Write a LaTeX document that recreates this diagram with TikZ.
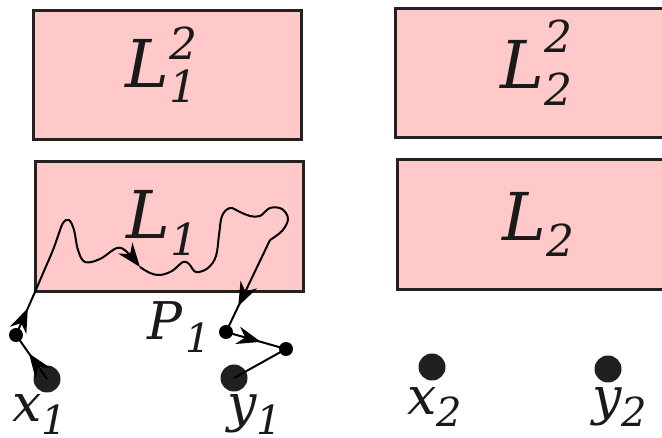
\documentclass[tikz,border=0pt]{standalone}
\usepackage{fontspec}
\setmainfont{DejaVu Serif}
\usetikzlibrary{arrows.meta,decorations.markings}
\definecolor{boxfill}{RGB}{255,201,201}
\definecolor{boxline}{RGB}{34,34,34}
\definecolor{dotcol}{RGB}{32,32,32}
\definecolor{txtcol}{RGB}{26,26,26}
\newcommand\Lf{\fontsize{66}{66}\selectfont\itshape}
\newcommand\Mf{\fontsize{52}{52}\selectfont\itshape}
\newcommand\Sf{\fontsize{44}{44}\selectfont\itshape}
\newcommand\Tf{\fontsize{40}{40}\selectfont\itshape}
\tikzset{
 box/.style={draw=boxline, line width=3pt, fill=boxfill, rectangle, inner sep=0pt},
 bigdot/.style={circle, fill=dotcol, inner sep=0pt, minimum size=27pt},
 smalldot/.style={circle, fill=black, inner sep=0pt, minimum size=14pt},
 txt/.style={anchor=base west, inner sep=0pt, text=txtcol},
 walk/.style={line width=2pt, black, line join=round},
 midarrow/.style={walk, postaction={decorate}, decoration={markings, mark=at position #1 with {\arrow{Stealth[scale=2]}}}},
 midarrow/.default=0.5,
 tip/.style={-{Stealth[scale=2]}}
}
\begin{document}
\begin{tikzpicture}[x=1pt,y=-1pt]
\clip (0,0) rectangle (662,438);
% boxes
\node[box, minimum width=267.5pt, minimum height=129.5pt] (B12) at (167.25,75.25) {};
\node[box, minimum width=268.5pt, minimum height=130pt] (B1) at (169.25,227) {};
\node[box, minimum width=295pt, minimum height=129.2pt] (B22) at (542.5,73.1) {};
\node[box, minimum width=293pt, minimum height=130pt] (B2) at (543.5,225) {};
% box labels
\node[txt] (tL12) at (125,88) {{\Lf L}\rlap{\raisebox{28pt}{\Sf 2}}\raisebox{-15pt}{\Sf 1}};
\node[txt] (tL1) at (126,239) {{\Lf L}\raisebox{-17pt}{\Sf 1}};
\node[txt] (tL22) at (500,89) {{\Lf L}\rlap{\raisebox{36pt}{\Sf 2}}\raisebox{-17pt}{\Sf 2}};
\node[txt] (tL2) at (502,241) {{\Lf L}\raisebox{-16pt}{\Sf 2}};
% point labels
\node[txt] (tP1) at (147,340) {{\Mf P}\kern3pt\raisebox{-13pt}{\Tf 1}};
\node[txt] (tx1) at (12,422) {{\Mf x}\raisebox{-13pt}{\Tf 1}};
\node[txt] (ty1) at (227,422) {{\Mf y}\raisebox{-13pt}{\Tf 1}};
\node[txt] (tx2) at (407,415) {{\Mf x}\raisebox{-12pt}{\Tf 2}};
\node[txt] (ty2) at (592,415) {{\Mf y}\raisebox{-12pt}{\Tf 2}};
% points
\node[bigdot] (x1) at (47,379) {};
\node[bigdot] (y1) at (234,378) {};
\node[bigdot] (x2) at (432,367) {};
\node[bigdot] (y2) at (608,369) {};
\node[smalldot] (a1) at (16,335) {};
\node[smalldot] (p1) at (226,332) {};
\node[smalldot] (b1) at (286,349) {};
\coordinate (c0) at (35,292);
\coordinate (cm) at (140,267);
\coordinate (c2) at (270,240);
% path
\draw[midarrow=0.58] (x1.center) -- (a1.center);
\draw[midarrow=0.62] (a1.center) -- (c0);
\draw[walk, tip] plot[smooth, tension=0.6] coordinates {(35,292) (44,271) (53,250) (58,236) (63,223) (69,220) (74,230) (78,250) (85,262) (100,259) (117,248) (127,252) (140,267)};
\draw[walk] plot[smooth, tension=0.6] coordinates {(140,267) (150,273) (160,275) (172,271) (183,262) (189,264) (196,272) (208,268) (216,256) (219,235) (222,216) (230,208) (240,212) (250,216) (260,216) (270,208) (282,209) (288,219) (282,231) (270,240)};
\draw[midarrow=0.72] (c2) -- (p1.center);
\draw[midarrow=0.58] (p1.center) -- (b1.center);
\draw[walk] (b1.center) -- (y1.center);
\end{tikzpicture}
\end{document}
